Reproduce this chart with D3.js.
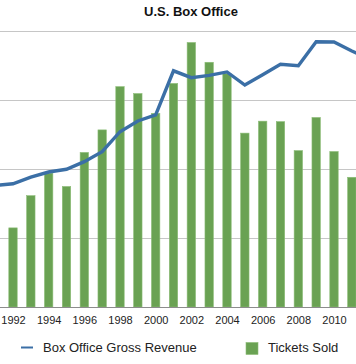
<!DOCTYPE html>
<html>
<head>
<meta charset="utf-8">
<script src="https://cdn.jsdelivr.net/npm/d3@7/dist/d3.min.js"></script>
<style>
  html, body { margin: 0; padding: 0; background: #fff; }
  svg { display: block; }
  text { font-family: "Liberation Sans", Arial, Helvetica, sans-serif; }
</style>
</head>
<body>
<svg id="chart" width="356" height="364"></svg>
<script>
// Data
const years = [1992, 1993, 1994, 1995, 1996, 1997, 1998, 1999, 2000, 2001,
               2002, 2003, 2004, 2005, 2006, 2007, 2008, 2009, 2010, 2011];
// Tickets sold, billions
const ticketsSold = [1.172, 1.242, 1.291, 1.262, 1.336, 1.385, 1.479, 1.464, 1.421, 1.486,
                     1.575, 1.532, 1.507, 1.378, 1.404, 1.403, 1.340, 1.412, 1.338, 1.282];
// Box office gross revenue, billions USD (line runs past both edges of the frame)
const revenueYears = [1991, 1992, 1993, 1994, 1995, 1996, 1997, 1998, 1999, 2000, 2001,
                      2002, 2003, 2004, 2005, 2006, 2007, 2008, 2009, 2010, 2011, 2012];
const grossRevenue = [5.28, 5.36, 5.65, 5.87, 5.99, 6.32, 6.75, 7.62, 8.09, 8.35, 10.27,
                      9.97, 10.07, 10.22, 9.65, 10.10, 10.55, 10.49, 11.53, 11.52, 11.13, 10.80];
const revenueTicks = [0, 3, 6, 9, 12];
const tickYears = [1992, 1994, 1996, 1998, 2000, 2002, 2004, 2006, 2008, 2010];
const title = "U.S. Box Office";
const seriesNames = ["Box Office Gross Revenue", "Tickets Sold"];

const svg = d3.select("#chart");
const W = 356;
const baseY = 307, topY = 31;

const x = d3.scaleLinear().domain([1992, 2010]).range([13, 334]);
const yRev = d3.scaleLinear().domain([0, 12]).range([baseY, topY]);
const yTix = d3.scaleLinear().domain([1.0, 1.6]).range([baseY, topY]);

// Title
svg.append("text")
  .attr("x", 191).attr("y", 16)
  .attr("text-anchor", "middle")
  .attr("font-size", 13).attr("font-weight", "bold")
  .attr("fill", "#111")
  .text(title);

// Gridlines
svg.append("g").selectAll("line")
  .data(revenueTicks.filter(d => d > 0))
  .join("line")
  .attr("x1", 0).attr("x2", W)
  .attr("y1", d => Math.round(yRev(d)) + 0.5)
  .attr("y2", d => Math.round(yRev(d)) + 0.5)
  .attr("stroke", "#c6c6c6").attr("stroke-width", 1);

// Bars
const bw = 8.4;
svg.append("g").selectAll("rect")
  .data(years.map((yr, i) => ({ yr, v: ticketsSold[i] })))
  .join("rect")
  .attr("x", d => x(d.yr) - bw / 2)
  .attr("width", bw)
  .attr("y", d => yTix(d.v))
  .attr("height", d => baseY - yTix(d.v))
  .attr("fill", "#6aa253")
  .attr("stroke", "#8cbd77").attr("stroke-width", 0.6);

// Baseline
svg.append("line")
  .attr("x1", 0).attr("x2", W)
  .attr("y1", baseY + 0.5).attr("y2", baseY + 0.5)
  .attr("stroke", "#8c8c8c").attr("stroke-width", 1.2);

// Line
const line = d3.line()
  .x(d => x(d.yr))
  .y(d => yRev(d.v));
svg.append("path")
  .datum(revenueYears.map((yr, i) => ({ yr, v: grossRevenue[i] })))
  .attr("d", line)
  .attr("fill", "none")
  .attr("stroke", "#3b6fa6")
  .attr("stroke-width", 3.4)
  .attr("stroke-linejoin", "miter");

// X axis
const xAxis = d3.axisBottom(x).tickValues(tickYears).tickFormat(d3.format("d")).tickSize(0).tickPadding(0);
const ax = svg.append("g").attr("transform", `translate(0,${baseY})`).call(xAxis);
ax.select(".domain").remove();
ax.selectAll("text")
  .attr("y", 9)
  .attr("dy", "0.71em")
  .attr("font-size", 11)
  .attr("font-family", "'Liberation Sans', Arial, Helvetica, sans-serif")
  .attr("fill", "#222");

// Legend
const lg = svg.append("g");
lg.append("line")
  .attr("x1", 21).attr("x2", 33).attr("y1", 347.5).attr("y2", 347.5)
  .attr("stroke", "#3b6fa6").attr("stroke-width", 2);
lg.append("text")
  .attr("x", 43).attr("y", 352)
  .attr("font-size", 13).attr("fill", "#222")
  .text(seriesNames[0]);
lg.append("rect")
  .attr("x", 246).attr("y", 342.5).attr("width", 12).attr("height", 12)
  .attr("fill", "#6aa253").attr("stroke", "#8cbd77").attr("stroke-width", 0.6);
lg.append("text")
  .attr("x", 268).attr("y", 352)
  .attr("font-size", 13).attr("fill", "#222")
  .text(seriesNames[1]);
</script>
</body>
</html>
